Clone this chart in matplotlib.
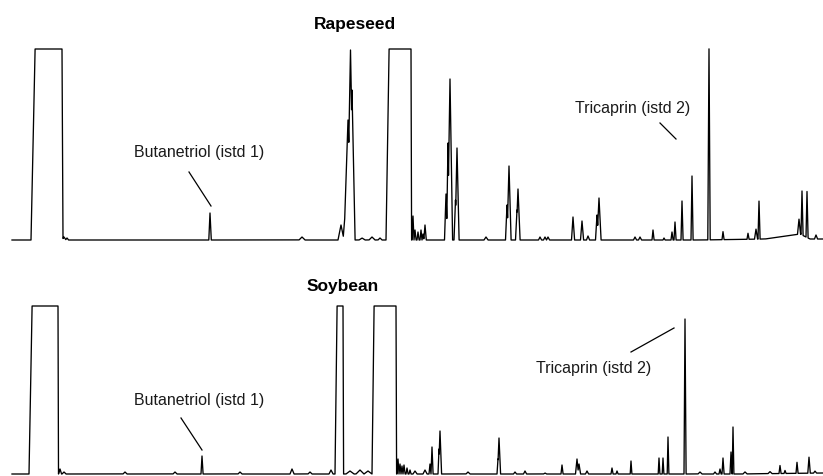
"""
Two GC-FID chromatograms (rapeseed / soybean) with internal standard labels.
Saves out.png.
"""

import numpy as np
import matplotlib.pyplot as plt

plt.rcParams['font.family'] = ['Liberation Sans', 'DejaVu Sans']

# --- Rapeseed: off-scale (clipped) peaks as (rise, top start, top end, fall end)
rape_plateaus = [(31, 35, 62, 63), (386, 389, 411, 411.5)]
rape_clip = 191
rape_rt = [64, 67, 210, 302, 341, 345, 348, 350.5, 352, 362, 372, 380,
           413, 415, 418, 421, 423, 425, 446, 448, 450, 455.5, 457, 486,
           507, 509, 517, 518, 540, 545, 548, 573, 582, 588, 597, 599,
           635, 640, 653, 664, 672, 675, 682, 692, 709, 723, 748, 756, 759,
           799, 802, 807, 816]
rape_h = [3, 2, 27, 3, 15, 25, 120, 190, 150, 2, 3, 2,
          24, 10, 8, 10, 6, 15, 46, 97, 161, 40, 92, 3,
          35, 74, 30, 51, 3, 3, 3, 23, 19, 4, 25, 42,
          3, 3, 10, 2, 8, 18, 39, 64, 191, 8, 6, 10, 38,
          15, 44, 46, 4]
rape_w = [2, 1.5, 1.2, 3, 3, 2, 4, 3.5, 3, 3, 3, 2,
          1, 1, 1, 1, 1, 1.2, 1.5, 1.5, 2.5, 1.5, 2, 2,
          1.5, 2, 1.5, 2, 1.5, 1.5, 1.5, 1.5, 1.5, 1.5, 1.5, 2,
          1.5, 1.5, 1, 1, 1, 1, 1, 1, 1.2, 1, 1, 1.5, 1,
          1.5, 1, 1, 1.5]
rape_drift_x = [12, 700, 765, 800, 810, 823]
rape_drift_y = [0, 0, 1, 6, 1, 1]

# --- Soybean
soy_plateaus = [(29, 32, 58, 58.5), (335, 337, 343, 343.5), (372, 374, 396, 396.5)]
soy_clip = 168
soy_rt = [60, 64, 125, 175, 202, 240, 292, 310, 331, 350, 360, 368,
          398, 400, 402, 404, 407, 410, 415, 425, 430, 432, 439, 440,
          468, 498, 499, 515, 525, 545, 562, 577, 579, 587, 612, 617, 631,
          659, 663, 668, 685, 700, 715, 720, 723, 731, 733, 745, 770,
          780, 785, 797, 809, 815]
soy_h = [5, 2, 2, 2, 18, 2, 5, 2, 4, 3, 4, 3,
         15, 10, 8, 9, 6, 4, 3, 4, 10, 27, 25, 43,
         2, 15, 36, 2, 3, 1, 9, 15, 10, 3, 6, 3, 13,
         16, 16, 37, 155, 2, 2, 5, 16, 22, 47, 2, 2,
         8, 3, 11, 16, 2]
soy_w = [1.5, 2, 2, 2, 1, 2, 2, 2, 2, 4, 4, 4,
         1, 1, 1, 1, 1, 1, 2, 2, 1, 1, 1, 1.5,
         2, 1, 1.5, 1.5, 1.5, 1.5, 1, 1.5, 1.5, 1.5, 1, 1, 0.8,
         0.8, 0.8, 0.8, 1, 2, 1.5, 1, 1, 1, 0.8, 2, 2,
         1, 1, 1, 1.2, 1.5]
soy_drift_x = [12, 740, 823]
soy_drift_y = [0, 0, 1]


def build_trace(plateaus, clip, rts, hs, ws, dx, dy):
    t = np.arange(dx[0], dx[-1] + 0.01, 0.1)
    sig = np.interp(t, dx, dy)
    peak = np.zeros_like(t)
    for rt, h, w in zip(rts, hs, ws):
        peak = np.maximum(peak, h * np.clip(1 - np.abs(t - rt) / w, 0, None))
    for a, b, c, d in plateaus:
        peak = np.maximum(peak, np.interp(t, [a, b, c, d], [0, clip, clip, 0],
                                          left=0, right=0))
    return t, sig + peak


fig = plt.figure(figsize=(8.23, 4.76), dpi=100)
H = 476

# top panel: signal 0 sits at pixel row 240
ax1 = fig.add_axes([0, (H - 245) / H, 1, 245 / H])
ax1.set_xlim(0, 823)
ax1.set_ylim(-5, 240)
# bottom panel: signal 0 sits at pixel row 474
ax2 = fig.add_axes([0, 0, 1, 231 / H])
ax2.set_xlim(0, 823)
ax2.set_ylim(-2, 229)

t, s = build_trace(rape_plateaus, rape_clip, rape_rt, rape_h, rape_w,
                   rape_drift_x, rape_drift_y)
ax1.plot(t, s, color="black", lw=0.95)
t, s = build_trace(soy_plateaus, soy_clip, soy_rt, soy_h, soy_w,
                   soy_drift_x, soy_drift_y)
ax2.plot(t, s, color="black", lw=0.95)

for ax in (ax1, ax2):
    ax.axis("off")

txt = dict(ha="center", va="center", fontsize=11.5, color="#1a1a1a")
ax1.text(355, 216, "Rapeseed", fontweight="bold", ha="center", va="center",
         fontsize=12.5)
ax1.text(199, 87, "Butanetriol (istd 1)", **txt)
ax1.plot([189, 211], [68, 34], color="black", lw=0.9)
ax1.text(633, 131, "Tricaprin (istd 2)", **txt)
ax1.plot([660, 676], [117, 101], color="black", lw=0.9)

ax2.text(343, 188, "Soybean", fontweight="bold", ha="center", va="center",
         fontsize=12.5)
ax2.text(199, 73, "Butanetriol (istd 1)", **txt)
ax2.plot([181, 202], [56, 24], color="black", lw=0.9)
ax2.text(594, 106, "Tricaprin (istd 2)", **txt)
ax2.plot([631, 674], [122, 146], color="black", lw=0.9)

fig.savefig("out.png", dpi=100)
